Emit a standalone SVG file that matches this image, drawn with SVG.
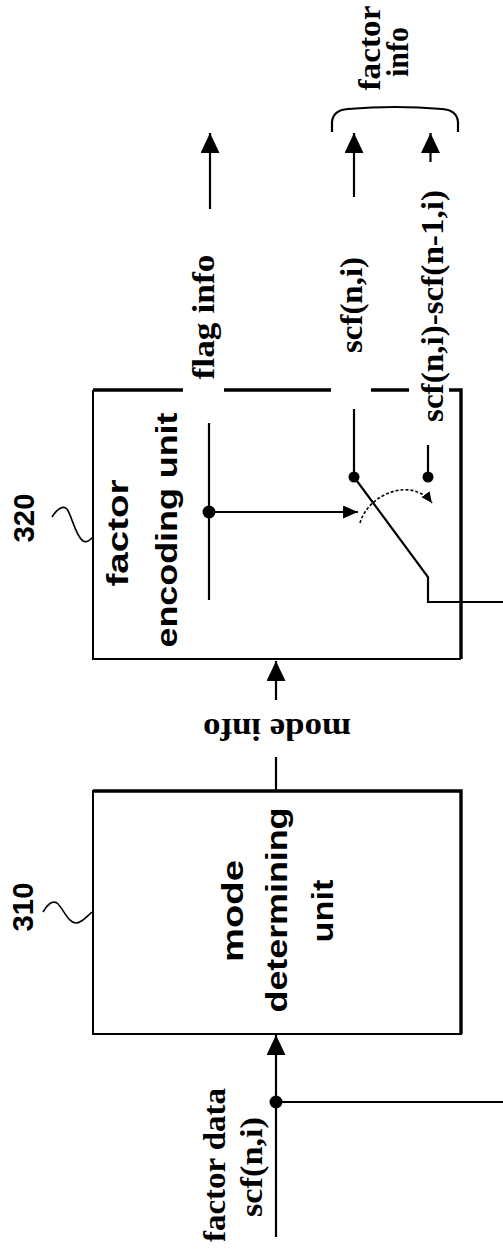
<svg xmlns="http://www.w3.org/2000/svg" width="503" height="1251" viewBox="0 0 503 1251">
<style>
.ln{stroke:#000;stroke-width:2.2;fill:none}
.edge{stroke:#000;stroke-width:2;fill:none}
.thick{stroke:#000;stroke-width:3.4;fill:none}
.dash{stroke:#000;stroke-width:1.6;fill:none;stroke-dasharray:3 2}
.dot{fill:#000}
.serif{font-family:"Liberation Serif","Times New Roman",serif;font-weight:bold;font-size:32px;fill:#000}
.sans{font-family:"Liberation Sans",Arial,sans-serif;font-weight:bold;font-size:30px;fill:#000}
</style>
<defs>
<marker id="arr" markerUnits="userSpaceOnUse" viewBox="0 0 20 19" refX="20" refY="9.5" markerWidth="20" markerHeight="19" orient="auto">
<path d="M0,0 L20,9.5 L0,19 z" fill="#000"/>
</marker>
<marker id="arrS" markerUnits="userSpaceOnUse" viewBox="0 0 15 13" refX="15" refY="6.5" markerWidth="15" markerHeight="13" orient="auto">
<path d="M0,0 L15,6.5 L0,13 z" fill="#000"/>
</marker>
<marker id="arrD" markerUnits="userSpaceOnUse" viewBox="0 0 11 10" refX="11" refY="5" markerWidth="11" markerHeight="10" orient="auto">
<path d="M0,0 L11,5 L0,10 z" fill="#000"/>
</marker>
</defs>

<g id="node-310">
<rect class="edge" x="93" y="791" width="368" height="243"/>
<path class="thick" d="M93,791 H461 V1034"/>
<text class="sans" text-anchor="middle" transform="translate(243,911) rotate(-90)" textLength="102" lengthAdjust="spacingAndGlyphs">mode</text>
<text class="sans" text-anchor="middle" transform="translate(287,910) rotate(-90)" textLength="205" lengthAdjust="spacingAndGlyphs">determining</text>
<text class="sans" text-anchor="middle" transform="translate(333,911) rotate(-90)" textLength="63" lengthAdjust="spacingAndGlyphs">unit</text>
</g>

<g id="label-310">
<text class="sans" text-anchor="middle" transform="translate(33,907) rotate(-90)" textLength="49" lengthAdjust="spacingAndGlyphs">310</text>
<path class="ln" style="stroke-width:1.6" d="M43,912 C47,905 52,900 57,903 C63,908 68,923 76,923 C82,923 86,917 92,912"/>
</g>

<g id="node-320">
<path class="edge" d="M93,390 V659 H461"/>
<path class="thick" d="M93,390 H183 M224,390 H331 M371,390 H409 M449,390 H461 V659"/>
<text class="sans" text-anchor="middle" transform="translate(128,533) rotate(-90)" textLength="107" lengthAdjust="spacingAndGlyphs">factor</text>
<text class="sans" text-anchor="middle" transform="translate(177,530) rotate(-90)" textLength="235" lengthAdjust="spacingAndGlyphs">encoding unit</text>
</g>

<g id="label-320">
<text class="sans" text-anchor="middle" transform="translate(34,518) rotate(-90)" textLength="49" lengthAdjust="spacingAndGlyphs">320</text>
<path class="ln" style="stroke-width:1.6" d="M52,517 C57,509 63,505 67,509 C72,516 75,535 83,541 C87,543 90,540 93,537"/>
</g>

<g id="switch">
<line class="ln" x1="209" y1="423" x2="209" y2="600"/>
<circle class="dot" cx="209" cy="512" r="6.5"/>
<line class="ln" x1="209" y1="512" x2="358" y2="512" marker-end="url(#arrS)"/>
<line class="ln" x1="354" y1="409" x2="354" y2="477"/>
<circle class="dot" cx="354" cy="477" r="5.5"/>
<line class="ln" x1="428" y1="445" x2="428" y2="477"/>
<circle class="dot" cx="428" cy="477" r="5.5"/>
<path class="ln" d="M354,477 L428,577 V602 H503"/>
<path class="dash" d="M360,523 C368,494 412,476 432,503" marker-end="url(#arrD)"/>
</g>

<g id="connectors">
<line class="ln" x1="276" y1="1237" x2="276" y2="1035" marker-end="url(#arr)"/>
<circle class="dot" cx="276" cy="1102" r="6.5"/>
<line class="ln" x1="276" y1="1102" x2="503" y2="1102"/>
<line class="ln" x1="276" y1="791" x2="276" y2="757"/>
<line class="ln" x1="276" y1="700" x2="276" y2="661" marker-end="url(#arr)"/>
<line class="ln" x1="210" y1="209" x2="210" y2="133" marker-end="url(#arr)"/>
<line class="ln" x1="354" y1="197" x2="354" y2="133" marker-end="url(#arr)"/>
<line class="ln" x1="430.5" y1="162" x2="430.5" y2="133" marker-end="url(#arr)"/>
<path class="ln" d="M332,132 L332,122 Q333,110 348,109 Q395,105 442,109 Q457,110 458,122 L458,132"/>
</g>

<g id="labels">
<text class="serif" text-anchor="middle" transform="translate(225,1165) rotate(-90)" textLength="154" lengthAdjust="spacingAndGlyphs">factor data</text>
<text class="serif" text-anchor="middle" transform="translate(262,1167) rotate(-90)" textLength="100" lengthAdjust="spacingAndGlyphs">scf(n,i)</text>
<text class="serif" text-anchor="middle" transform="translate(277,719) rotate(180)" textLength="148" lengthAdjust="spacingAndGlyphs">mode info</text>
<text class="serif" text-anchor="middle" transform="translate(214,317) rotate(-90)" textLength="125" lengthAdjust="spacingAndGlyphs">flag info</text>
<text class="serif" text-anchor="middle" transform="translate(362,305) rotate(-90)" textLength="96" lengthAdjust="spacingAndGlyphs">scf(n,i)</text>
<text class="serif" text-anchor="middle" transform="translate(443,306) rotate(-90)" textLength="232" lengthAdjust="spacingAndGlyphs">scf(n,i)-scf(n-1,i)</text>
<text class="serif" text-anchor="middle" transform="translate(380,48) rotate(-90)" textLength="85" lengthAdjust="spacingAndGlyphs">factor</text>
<text class="serif" text-anchor="middle" transform="translate(408,52) rotate(-90)" textLength="50" lengthAdjust="spacingAndGlyphs">info</text>
</g>
</svg>
